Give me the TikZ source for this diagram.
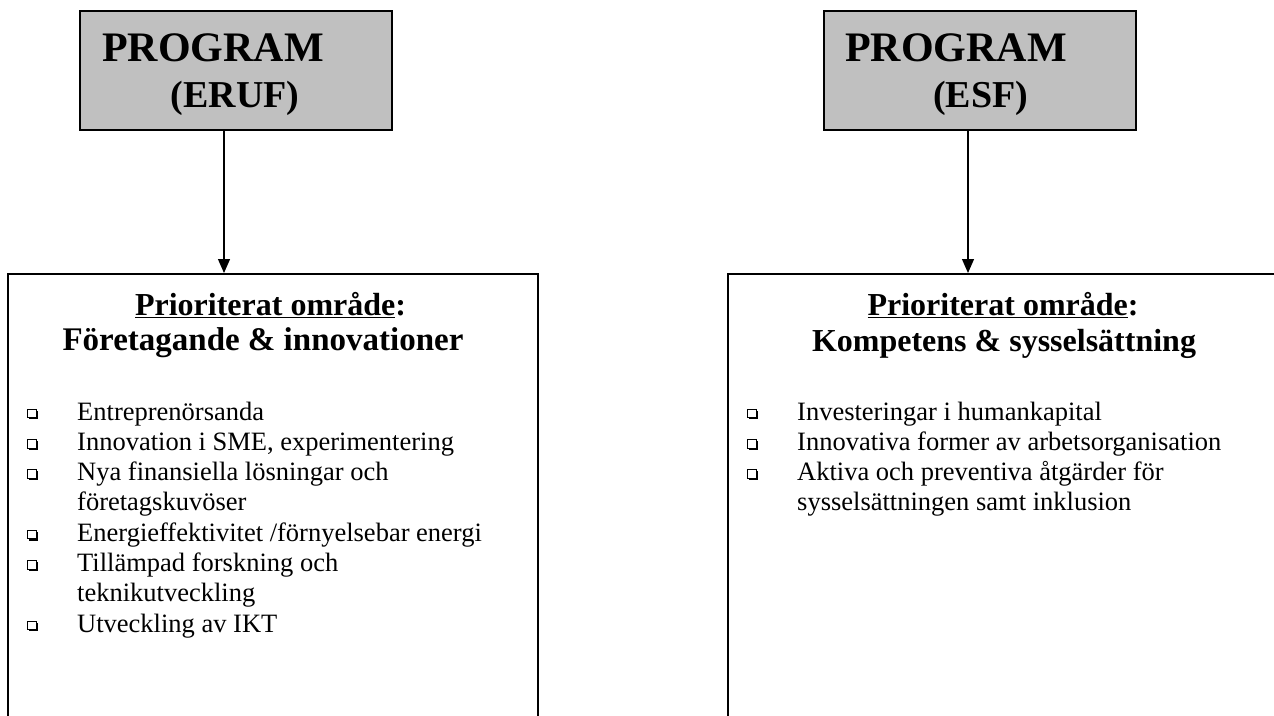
\documentclass[tikz,border=0pt]{standalone}
\usepackage{fontspec}
\setmainfont{Liberation Serif}
\usepackage{tikz}
\usetikzlibrary{arrows.meta,positioning,calc,shadows}
\definecolor{progFill}{HTML}{C0C0C0}

\begin{document}
\begin{tikzpicture}[
    x=1pt, y=-1pt,
    flow/.style={line width=1.2pt,-{Triangle[length=14pt,width=12pt]}},
    program/.style={draw, line width=2pt, fill=progFill,
                    minimum width=312pt, minimum height=119pt, inner sep=0pt},
    area/.style={draw, line width=2pt, minimum height=490pt, inner sep=0pt},
    progtext/.style={inner sep=0pt, anchor=base west,
                     font=\fontsize{42}{44}\selectfont\bfseries},
    fundtext/.style={inner sep=0pt, anchor=base,
                     font=\fontsize{38}{40}\selectfont\bfseries},
    headtext/.style={inner sep=0pt, anchor=base,
                     font=\fontsize{32}{35}\selectfont\bfseries},
    item/.style={inner sep=0pt, anchor=base west,
                 font=\fontsize{26.5}{30}\selectfont},
    boxmark/.style={draw, line width=1pt, fill=white, minimum size=8.5pt,
                    inner sep=0pt, drop shadow={shadow xshift=1.6pt,
                    shadow yshift=-1.6pt, opacity=1, fill=black}},
]

\useasboundingbox (0,0) rectangle (1274,715);
\clip (0,0) rectangle (1274,715);

%-----------------------------------------------------------------------
% programme boxes
\node[program] (eruf) at (236,70.5) {};
\node[progtext] (erufname) at (102,61) {PROGRAM};
\node[fundtext] (eruffund) at (235,107) {(ERUF)};

\node[program] (esf) at (979.5,70.5) {};
\node[progtext] (esfname) at (845,61) {PROGRAM};
\node[fundtext] (esffund) at (980.5,107) {(ESF)};

%-----------------------------------------------------------------------
% priority areas (running off the page at the bottom)
\node[area, minimum width=530pt] (erufarea) at (273,519) {};
\node[area, minimum width=550pt] (esfarea) at (1003,519) {};

\coordinate (erufout) at ([xshift=-12pt]eruf.south);
\coordinate (esfout) at ([xshift=-11.5pt]esf.south);
\draw[flow] (erufout) -- (erufout |- erufarea.north);
\draw[flow] (esfout) -- (esfout |- esfarea.north);

% headings
\node[headtext] (erufhead) at (270.5,315) {\underline{Prioriterat område}:};
\node[headtext, font=\fontsize{33}{35}\selectfont\bfseries] (erufsub)
  at (263,350) {Företagande \& innovationer};
\node[headtext] (esfhead) at (1003,315) {\underline{Prioriterat område}:};
\node[headtext] (esfsub) at (1004,351) {Kompetens \& sysselsättning};

%-----------------------------------------------------------------------
% bullet lists (1 = new point, 0 = continued line)
\foreach \b/\txt [count=\i] in {1/{Entreprenörsanda},
    1/{Innovation i SME, experimentering}, 1/{Nya finansiella lösningar och},
    0/{företagskuvöser}, 1/{Energieffektivitet /förnyelsebar energi},
    1/{Tillämpad forskning och}, 0/{teknikutveckling}, 1/{Utveckling av IKT}}
{
  \node[item] (eline\i) at (77,{420+30.3*(\i-1)}) {\txt};
  \ifnum\b=1 \node[boxmark] (ebox\i) at (32,{413.5+30.3*(\i-1)}) {}; \fi
}

\foreach \b/\txt [count=\i] in {1/{Investeringar i humankapital},
    1/{Innovativa former av arbetsorganisation},
    1/{Aktiva och preventiva åtgärder för},
    0/{sysselsättningen samt inklusion}}
{
  \node[item] (sline\i) at (797,{420+30.3*(\i-1)}) {\txt};
  \ifnum\b=1 \node[boxmark] (sbox\i) at (752,{413.5+30.3*(\i-1)}) {}; \fi
}

\end{tikzpicture}
\end{document}
